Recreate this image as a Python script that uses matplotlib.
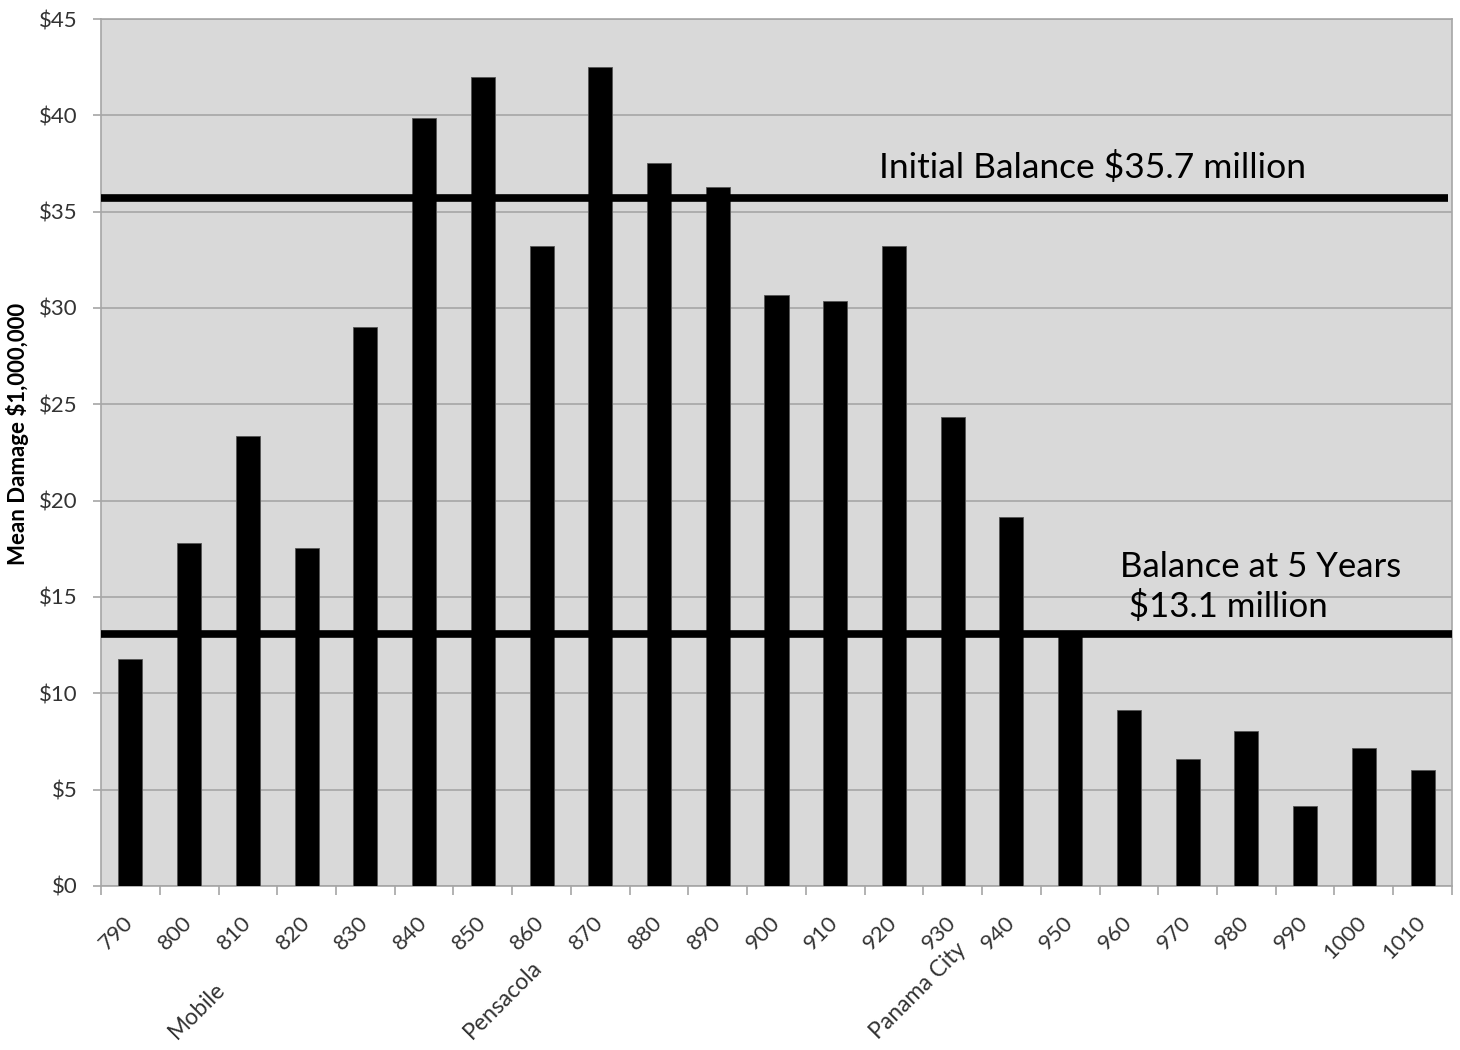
import numpy as np
import matplotlib.pyplot as plt
from matplotlib.ticker import FixedLocator, FuncFormatter

# mean damage per landfall milepost, in $ millions
mileposts = [790, 800, 810, 820, 830, 840, 850, 860, 870, 880, 890, 900,
             910, 920, 930, 940, 950, 960, 970, 980, 990, 1000, 1010]
mean_damage = [11.8, 17.8, 23.35, 17.55, 29.0, 39.85, 42.0, 33.2, 42.5, 37.55,
               36.3, 30.7, 30.35, 33.2, 24.35, 19.15, 13.1, 9.15, 6.6, 8.05,
               4.15, 7.15, 6.0]

initial_balance = 35.7
balance_5yr = 13.1

cities = ["Mobile", "Pensacola", "Panama City"]

plt.rcParams["font.family"] = ["Lato", "DejaVu Sans"]
TXT = "#333333"
GRID = "#a6a6a6"

W, H = 1460, 1050
fig = plt.figure(figsize=(W / 100, H / 100), dpi=100)
ax = fig.add_axes([0.0692, 0.1562, 0.9253, 0.8257])
ax.set_facecolor("#d9d9d9")

x = np.arange(len(mileposts))
ax.bar(x, mean_damage, width=0.41, color="black", edgecolor="#555555",
       linewidth=0.6, zorder=3)

ax.set_xlim(-0.5, len(mileposts) - 0.5)
ax.set_ylim(0, 45)
ax.yaxis.set_major_locator(FixedLocator(np.arange(0, 46, 5)))
ax.yaxis.set_major_formatter(FuncFormatter(lambda v, p: f"${v:.0f}"))
ax.grid(axis="y", color=GRID, linewidth=1.2, zorder=0)
ax.set_axisbelow(True)
ax.tick_params(axis="y", length=6, width=1.2, color=GRID, labelsize=16,
               labelcolor=TXT, pad=11)

# tick marks between categories, labels centred under bars
ax.set_xticks(np.arange(-0.5, len(mileposts), 1.0), minor=True)
ax.set_xticks(x)
ax.set_xticklabels([str(m) for m in mileposts])
ax.tick_params(axis="x", which="minor", length=6.5, width=1.2, color=GRID)
ax.tick_params(axis="x", which="major", length=0, labelsize=16,
               labelcolor=TXT, pad=24)
for lab in ax.get_xticklabels():
    lab.set_rotation(45)
    lab.set_rotation_mode("anchor")
    lab.set_ha("right")
    lab.set_va("center")

for s in ax.spines.values():
    s.set_color(GRID)
    s.set_linewidth(1.2)

ax.set_ylabel("Mean Damage $1,000,000", fontsize=16, fontweight="bold",
              color="black")
ax.yaxis.set_label_coords(-0.053, 0.521)

# fund balance lines
ax.plot([-0.5, len(mileposts) - 0.57], [initial_balance] * 2, color="black",
        linewidth=5.5, solid_capstyle="butt", zorder=4)
ax.plot([-0.5, len(mileposts) - 0.5], [balance_5yr] * 2, color="black",
        linewidth=5.5, solid_capstyle="butt", zorder=4)

ax.text(12.75, initial_balance + 1.05, f"Initial Balance ${initial_balance} million",
        fontsize=25.5, color="black", ha="left", va="baseline", zorder=5)
ax.text(16.85, balance_5yr + 0.55, f"Balance at 5 Years\n ${balance_5yr} million",
        fontsize=25, color="black", ha="left", va="bottom", linespacing=1.25,
        zorder=5)

# city names, rotated, starting near the bottom edge of the figure
city_xy = [(177, 1040), (472, 1040), (878, 1040)]
for name, (px, py) in zip(cities, city_xy):
    fig.text(px / W, 1 - py / H, name, rotation=45, rotation_mode="anchor",
             ha="left", va="baseline", fontsize=16.5, color=TXT)

fig.savefig("out.png", dpi=100)
